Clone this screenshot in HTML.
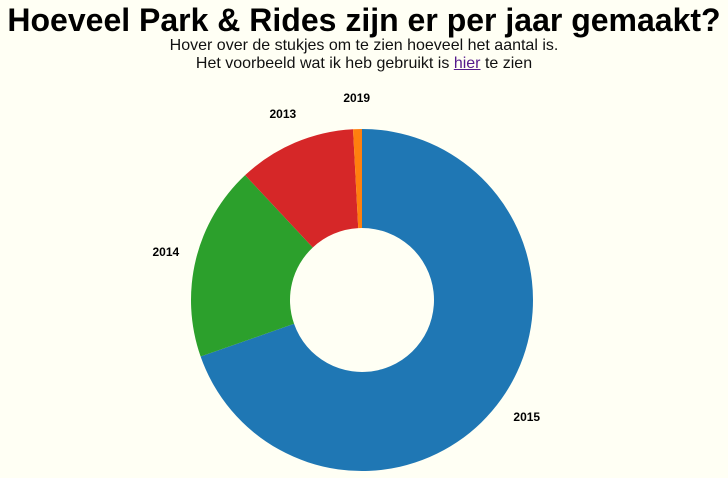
<!DOCTYPE html>
<html><head><meta charset="utf-8"><style>
body{margin:0;width:728px;height:478px;background:#fffff4;font-family:"Liberation Sans",sans-serif;overflow:hidden}
h1{margin:0;position:absolute;top:1px;left:0;width:728px;text-align:center;font-size:32px;font-weight:bold;color:#000;line-height:38px;white-space:nowrap}
.sub{position:absolute;top:37px;left:0;width:728px;text-align:center;font-size:16px;line-height:18px;color:#111}
a{color:#551a8b}
svg{position:absolute;left:0;top:0}
</style></head><body>
<h1>Hoeveel Park &amp; Rides zijn er per jaar gemaakt?</h1>
<div class="sub">Hover over de stukjes om te zien hoeveel het aantal is.<br>Het voorbeeld wat ik heb gebruikt is <a href="#">hier</a> te zien</div>
<svg id="chart" width="728" height="478"></svg>
<script>
const years = ["2015","2014","2013","2019"];
const counts = [125,33,20,1.5];
const colors = ["#1f77b4","#2ca02c","#d62728","#ff7f0e"];
const cx=362, cy=300, R=171, r=72, LR=202;
const svg=document.getElementById('chart');
const NS='http://www.w3.org/2000/svg';
const total=counts.reduce((a,b)=>a+b,0);
function pt(rad,a){return [cx+rad*Math.sin(a), cy-rad*Math.cos(a)];}
let a0=0;
counts.forEach((v,i)=>{
  const a1=a0+v/total*2*Math.PI;
  const large=(a1-a0)>Math.PI?1:0;
  const [x0,y0]=pt(R,a0),[x1,y1]=pt(R,a1),[x2,y2]=pt(r,a1),[x3,y3]=pt(r,a0);
  const p=document.createElementNS(NS,'path');
  p.setAttribute('d',`M${x0},${y0}A${R},${R} 0 ${large} 1 ${x1},${y1}L${x2},${y2}A${r},${r} 0 ${large} 0 ${x3},${y3}Z`);
  p.setAttribute('fill',colors[i]);
  
  
  svg.appendChild(p);
  const am=(a0+a1)/2;
  const [lx,ly]=pt(LR,am);
  const t=document.createElementNS(NS,'text');
  t.setAttribute('x',lx);t.setAttribute('y',ly+4);
  t.setAttribute('text-anchor','middle');
  t.setAttribute('font-size','12');t.setAttribute('font-weight','bold');
  t.setAttribute('font-family','Liberation Sans, sans-serif');
  t.textContent=years[i];
  
  
  svg.appendChild(t);
  a0=a1;
});
</script>
</body></html>
